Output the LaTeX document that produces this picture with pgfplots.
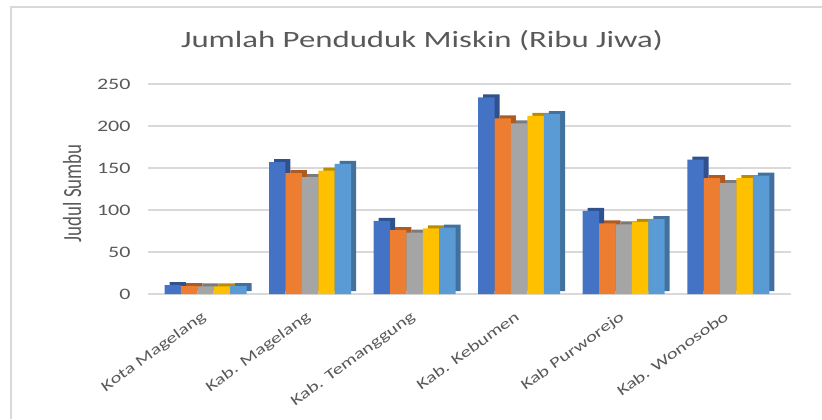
\documentclass[border=0pt]{standalone}
\usepackage{pgfplots}
\pgfplotsset{compat=1.18}
\usepackage{fontspec}
\setmainfont{Carlito}
\newcommand{\sx}[1]{\scalebox{1.38}[1]{#1}}
\definecolor{txt}{HTML}{595959}
\definecolor{gridc}{HTML}{D9D9D9}
\definecolor{cA}{HTML}{4472C4}\definecolor{dA}{HTML}{2F528F}
\definecolor{cB}{HTML}{ED7D31}\definecolor{dB}{HTML}{AE5A21}
\definecolor{cC}{HTML}{A5A5A5}\definecolor{dC}{HTML}{7B7B7B}
\definecolor{cD}{HTML}{FFC000}\definecolor{dD}{HTML}{BC8C00}
\definecolor{cE}{HTML}{5B9BD5}\definecolor{dE}{HTML}{41719C}
\pgfplotstableread{
x A B C D E
0 10.5 9.5 9 9 9.5
1 157 144 139 147 155
2 87 76 73 78 79
3 234 209 203 212 214
4 99 84 83 86 89
5 160 138 132 138 141
}\data
\begin{document}
\begin{tikzpicture}[x=1bp,y=1bp]
\useasboundingbox (0,0) rectangle (822,419);
\draw[gridc, line width=1.2bp] (11,0) -- (11,412) -- (822,412);
\node[txt, font=\fontsize{23.5}{23.5}\selectfont, anchor=base] at (422,372) {\scalebox{1.4}[1]{Jumlah Penduduk Miskin (Ribu Jiwa)}};
\begin{axis}[
  at={(148bp,125bp)}, anchor=south west,
  scale only axis, width=643bp, height=210bp,
  xmin=-0.55, xmax=5.6, ymin=0, ymax=250,
  ybar, bar width=16.4bp,
  xtick={0,1,2,3,4,5},
  xticklabels={\sx{Kota Magelang}, \sx{Kab. Magelang}, \sx{Kab. Temanggung}, \sx{Kab. Kebumen}, \sx{Kab Purworejo}, \sx{Kab. Wonosobo}},
  ytick={0,50,100,150,200,250},
  /pgf/number format/assume math mode=true,
  yticklabel={\sx{\pgfmathprintnumber[assume math mode=true]{\tick}}},
  axis line style={draw=none},
  major tick length=0pt,
  ymajorgrids, grid style={gridc, line width=1.3bp},
  tick label style={txt},
  xticklabel style={font=\fontsize{15}{15}\selectfont, xshift=-5bp, yshift=-16bp, rotate=36, anchor=north east, inner sep=0pt},
  yticklabel style={font=\fontsize{16}{16}\selectfont, xshift=-14bp},
  ylabel={\scalebox{1}[1.38]{Judul Sumbu}},
  ylabel style={txt, font=\fontsize{19}{19}\selectfont, at={(axis description cs:-0.118,0.48)}, anchor=center},
  clip=false,
]
\addplot[fill=dA, draw=none, bar shift=-32.8bp, xshift=5bp, yshift=3bp] table[x=x,y=A]{\data};
\addplot[fill=dB, draw=none, bar shift=-16.4bp, xshift=5bp, yshift=3bp] table[x=x,y=B]{\data};
\addplot[fill=dC, draw=none, bar shift=0bp, xshift=5bp, yshift=3bp] table[x=x,y=C]{\data};
\addplot[fill=dD, draw=none, bar shift=16.4bp, xshift=5bp, yshift=3bp] table[x=x,y=D]{\data};
\addplot[fill=dE, draw=none, bar shift=32.8bp, xshift=5bp, yshift=3bp] table[x=x,y=E]{\data};
\addplot[fill=cA, draw=none, bar shift=-32.8bp] table[x=x,y=A]{\data};
\addplot[fill=cB, draw=none, bar shift=-16.4bp] table[x=x,y=B]{\data};
\addplot[fill=cC, draw=none, bar shift=0bp] table[x=x,y=C]{\data};
\addplot[fill=cD, draw=none, bar shift=16.4bp] table[x=x,y=D]{\data};
\addplot[fill=cE, draw=none, bar shift=32.8bp] table[x=x,y=E]{\data};
\end{axis}
\end{tikzpicture}
\end{document}
